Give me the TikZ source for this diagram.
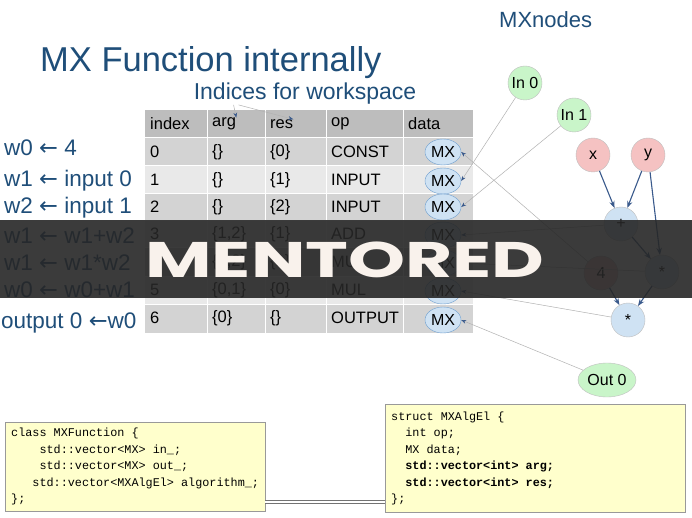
\documentclass[tikz,border=0pt]{standalone}
\usepackage{fontspec}
\setmainfont{Liberation Sans}
\setmonofont{Liberation Mono}
\newfontfamily\arr{DejaVu Sans}
\newfontfamily\banfont{Poppins}
\newcommand\csp{\hphantom{x}}
\usetikzlibrary{shapes.geometric,arrows.meta}
\definecolor{ttl}{HTML}{1F4E79}
\definecolor{hdr}{HTML}{BDBDBD}
\definecolor{rowA}{HTML}{D3D3D3}
\definecolor{rowB}{HTML}{E9E9E9}
\definecolor{mxf}{HTML}{CFE2F3}
\definecolor{mxd}{HTML}{6F9FCF}
\definecolor{grn}{HTML}{C9F5C9}
\definecolor{red}{HTML}{F5C2C2}
\definecolor{edg}{HTML}{3A5A8C}
\definecolor{codebg}{HTML}{FFFFCC}
\begin{document}
\begin{tikzpicture}[x=1pt,y=-1pt,
  cell/.style={anchor=west,font=\fontsize{16.5}{16.5}\selectfont,inner sep=0},
  mx/.style={ellipse,draw=mxd,fill=mxf,minimum width=36,minimum height=26,inner sep=0,font=\fontsize{16}{16}\selectfont},
  gn/.style={circle,draw=black!25,minimum size=34,inner sep=0,font=\fontsize{16}{16}\selectfont},
  lab/.style={anchor=west,font=\fontsize{22.5}{22.5}\selectfont,text=ttl,inner sep=0},
  thin/.style={draw=black!30,line width=0.5,-{Stealth[length=5,color=edg]}},
  dark/.style={draw=edg,line width=1.1,-{Stealth[length=7]}},
  code/.style={draw=black!40,fill=codebg,anchor=north west,align=left,font=\ttfamily\fontsize{11.8}{16.5}\selectfont,inner sep=6}]
\useasboundingbox (0,0) rectangle (692,518);
\fill[white] (0,0) rectangle (692,518);
% titles
\node[anchor=west,text=ttl,font=\fontsize{34.5}{34.5}\selectfont,inner sep=0] (t) at (40,63) {MX Function internally};
\node[text=ttl,font=\fontsize{23}{23}\selectfont,inner sep=0] (ind) at (305,94) {Indices for workspace};
\node[anchor=west,text=ttl,font=\fontsize{22}{22}\selectfont,inner sep=0] (mxn) at (499,20) {MXnodes};
% table
\fill[hdr] (145,110) rectangle (473,138);
\foreach \i/\a/\b/\c in {0/138/166/rowA,1/166/194/rowB,2/194/221/rowA,3/221/248/rowB,4/248/276/rowA,5/276/304/rowB,6/304/333/rowA}
  \fill[\c] (145,\a) rectangle (473,\b);
\foreach \xx in {207,265,326,403} \draw[white,line width=1] (\xx,110) -- (\xx,333);
\foreach \yy in {138,166,194,221,248,276,304} \draw[white,line width=1] (145,\yy) -- (473,\yy);
\node[cell] (h1) at (150,124) {index};
\node[cell] (h2) at (212,124) {arg};
\node[cell] (h3) at (270,124) {res};
\node[cell] (h4) at (331,124) {op};
\node[cell] (h5) at (408,124) {data};
\foreach \r/\y/\a/\b/\c in {0/152/\{\}/\{0\}/CONST,1/180/\{\}/\{1\}/INPUT,2/207/\{\}/\{2\}/INPUT,3/234/{\{1,2\}}/\{1\}/ADD,4/262/{\{1,2\}}/\{1\}/MUL,5/290/{\{0,1\}}/\{0\}/MUL,6/318/\{0\}/\{\}/OUTPUT}{
  \node[cell] (i\r) at (150,\y) {\r};
  \node[cell] (a\r) at (212,\y) {\a};
  \node[cell] (s\r) at (270,\y) {\b};
  \node[cell] (o\r) at (331,\y) {\c};
}
\node[mx] (m0) at (443,152) {MX};
\node[mx] (m1) at (443,181) {MX};
\node[mx] (m2) at (443,207) {MX};
\node[mx] (m3) at (443,235) {MX};
\node[mx] (m4) at (443,263) {MX};
\node[mx] (m5) at (443,291) {MX};
\node[mx] (m6) at (443,320) {MX};
\draw[thin] (ind.south west)++(40,0) -- (h2.north east);
\draw[thin] (ind.south west)++(45,0) -- (h3.north east);
% left labels
\node[lab] (w0) at (4,148) {w0 {\arr←} 4};
\node[lab] (w1) at (4,181) {w1 {\arr←} input 0};
\node[lab] (w2) at (4,208) {w2 {\arr←} input 1};
\node[lab] (w3) at (4,236) {w1 {\arr←} w1+w2};
\node[lab] (w4) at (4,263) {w1 {\arr←} w1*w2};
\node[lab] (w5) at (4,290) {w0 {\arr←} w0+w1};
\node[lab] (w6) at (1,323) {output 0 {\arr←}w0};
% graph
\node[gn,fill=grn] (in0) at (525,83) {In 0};
\node[gn,fill=grn] (in1) at (574,115) {In 1};
\node[gn,fill=red] (x) at (593,155) {x};
\node[gn,fill=red] (y) at (648,155) {y};
\node[gn,fill=mxf] (add) at (621,224) {+};
\node[gn,fill=red] (four) at (601,273) {4};
\node[gn,fill=mxf] (mul1) at (662,272) {*};
\node[gn,fill=mxf] (mul2) at (628,320) {*};
\node[ellipse,draw=black!25,fill=grn,minimum width=58,minimum height=34,inner sep=0,font=\fontsize{16}{16}\selectfont] (out) at (607,380) {Out 0};
\draw[dark] (x) -- (add);
\draw[dark] (y) -- (add);
\draw[dark] (y) -- (mul1);
\draw[dark] (add) -- (mul1);
\draw[dark] (four) -- (mul2);
\draw[dark] (mul1) -- (mul2);
\draw[thin] (in0) -- (m1.east);
\draw[thin] (in1) -- (m2.east);
\draw[thin] (four) -- (m0.east);
\draw[thin] (add) -- (m3.east);
\draw[thin] (mul1) -- (m4.east);
\draw[thin] (mul2) -- (m5.east);
\draw[thin] (out) -- (m6.east);
% code boxes
\node[code,text width=248,minimum height=88] (cf) at (5,422) {class\csp MXFunction\csp\{\\
\csp\csp\csp\csp std::vector<MX>\csp in\_;\\
\csp\csp\csp\csp std::vector<MX>\csp out\_;\\
\csp\csp\csp std::vector<MXAlgEl>\csp algorithm\_;\\
\};};
\node[code,text width=288,minimum height=108] (ca) at (385,404) {struct\csp MXAlgEl\csp\{\\
\csp\csp int\csp op;\\
\csp\csp MX\csp data;\\
\csp\csp\textbf{std::vector<int>\csp arg;}\\
\csp\csp\textbf{std::vector<int>\csp res;}\\
\};};
\draw[black!55,double=white,double distance=1.5,line width=0.8] (cf.east |- 0,502) -- (ca.west |- 0,502);
% banner
\fill[black!85,opacity=0.9] (0,220) rectangle (692,298);
\node[text=white!90!brown,font=\banfont\bfseries\fontsize{50}{50}\selectfont,xscale=1.45,inner sep=0] (ban) at (345,260) {MENTORED};
\end{tikzpicture}
\end{document}
